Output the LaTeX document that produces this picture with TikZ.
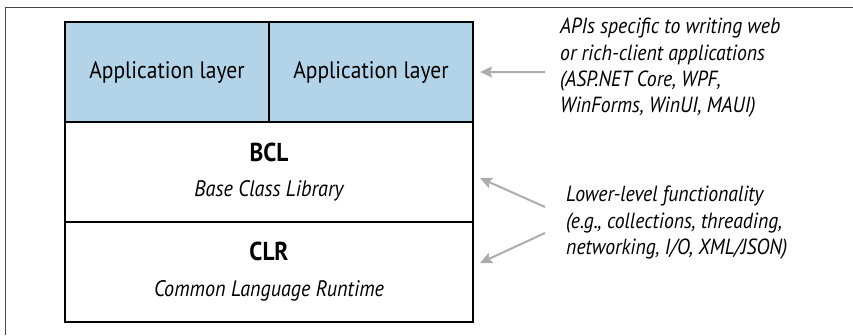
\documentclass[tikz,border=0pt]{standalone}
\usepackage{fontspec}
\setmainfont{PT Sans}[FakeStretch=0.9]
\usepackage{xcolor}
\usetikzlibrary{arrows.meta,positioning}

\definecolor{appblue}{RGB}{179,212,232}
\definecolor{arrowgray}{RGB}{172,172,172}
\definecolor{framegray}{RGB}{70,70,70}

\begin{document}
\begin{tikzpicture}[
    x=1bp, y=-1bp,
    node distance=0bp and 0bp,
    layer/.style={rectangle, draw, line width=1.8bp, outer sep=0pt, inner sep=0pt, minimum height=100bp, align=center, font=\fontsize{24}{28}\selectfont},
    note/.style={font=\fontsize{22}{26.5}\selectfont\itshape, align=left, anchor=north west, inner sep=0pt},
    arrow/.style={-{Stealth[length=12bp, width=11bp, inset=2bp]}, arrowgray, line width=2bp}
]
    \useasboundingbox (0,0) rectangle (853,335);
    % Frame
    \draw[framegray, line width=1bp] (5,335) -- (5,7) -- (853,7);

    % Top row
    \node[layer, fill=appblue, minimum width=204bp, anchor=north west] (app1) at (65,22) {Application layer};
    \node[layer, fill=appblue, minimum width=204bp, right=of app1] (app2) {Application layer};

    % Lower layers
    \node[layer, minimum width=408bp, below=of app1.south east] (bcl) {{\fontsize{26}{28}\selectfont\bfseries BCL}\\[8bp] {\fontsize{22.5}{24}\selectfont\itshape Base Class Library}};
    \node[layer, minimum width=408bp, below=of bcl] (clr) {{\fontsize{26}{28}\selectfont\bfseries CLR}\\[8bp] {\fontsize{22.5}{24}\selectfont\itshape Common Language Runtime}};

    % Notes
    \node[note] (apinote) at (560,18) {APIs specific to writing web\\or rich-client applications\\(ASP.NET Core, WPF,\\WinForms, WinUI, MAUI)};
    \node[note] (lownote) at (566,186) {Lower-level functionality\\(e.g., collections, threading,\\networking, I/O, XML/JSON)};

    % Arrows
    \coordinate (apitail) at (545,72);
    \coordinate (bcltail) at (545,207);
    \coordinate (clrtail) at (545,233);
    \coordinate (bcltip) at ([xshift=7bp, yshift=-6bp]bcl.east);
    \coordinate (clrtip) at ([xshift=7bp, yshift=9bp]clr.east);
    \draw[arrow, shorten >=7bp] (apitail) -- (app2.east);
    \draw[arrow] (bcltail) -- (bcltip);
    \draw[arrow] (clrtail) -- (clrtip);
\end{tikzpicture}
\end{document}
